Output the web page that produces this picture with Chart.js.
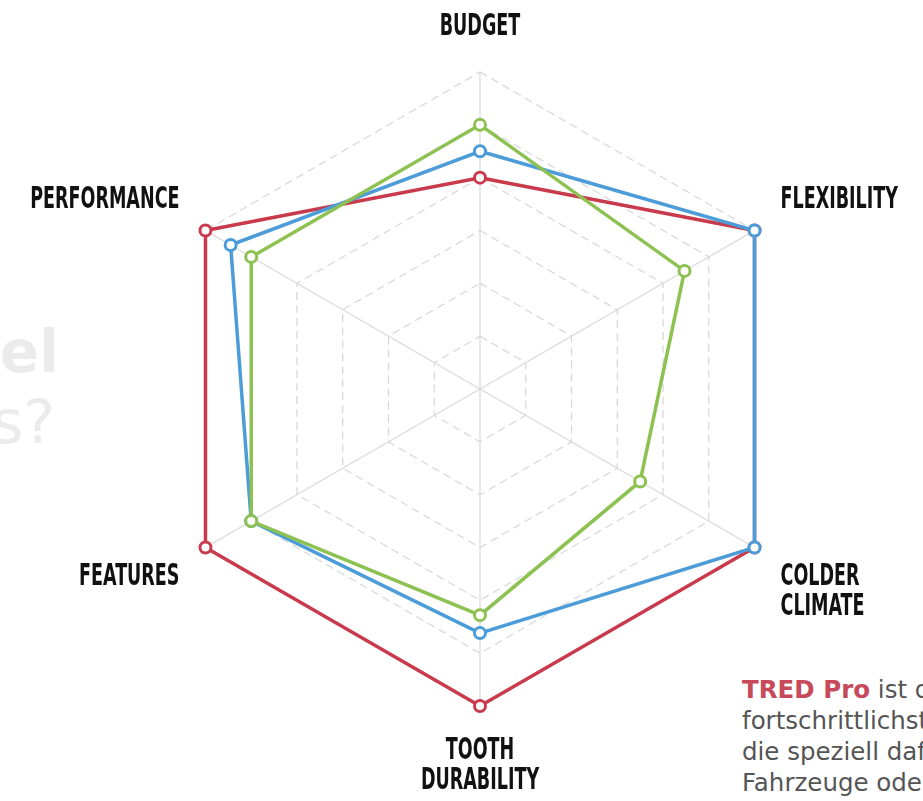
<!DOCTYPE html>
<html>
<head>
<meta charset="utf-8">
<script src="https://cdn.jsdelivr.net/npm/chart.js@4/dist/chart.umd.min.js"></script>
<style>
  html, body { margin: 0; padding: 0; width: 923px; height: 801px; overflow: hidden; background: #fff; position: relative; }
  .bg { position: absolute; white-space: nowrap; color: #ebebeb; font-family: 'DejaVu Sans', sans-serif; }
  #w1 { right: 864px; top: 318px; font-size: 58px; font-weight: bold; }
  #w2 { right: 868px; top: 387px; font-size: 60px; }
  #para { position: absolute; left: 742px; top: 674px; font-family: 'DejaVu Sans', sans-serif; font-size: 24.5px; line-height: 31px; color: #555; white-space: nowrap; }
  #para b { color: #c64a5a; }
  #wrap { position: absolute; left: -18px; top: -3px; width: 960px; height: 814px; }
  #c { display: block; width: 960px; height: 814px; }
</style>
</head>
<body>
<div class="bg" id="w1">el</div>
<div class="bg" id="w2">s?</div>
<div id="para"><b>TRED Pro</b> ist die<br>fortschrittlichste<br>die speziell dafür<br>Fahrzeuge oder</div>
<div id="wrap"><canvas id="c" width="960" height="814"></canvas></div>
<script>
const categories = ['BUDGET', 'FLEXIBILITY', ['COLDER', 'CLIMATE'], ['TOOTH', 'DURABILITY'], 'FEATURES', 'PERFORMANCE'];
const greenValues = [5.0, 4.47, 3.5, 4.28, 5.0, 5.0];
const blueValues  = [4.5, 6.0, 6.0, 4.62, 5.0, 5.45];
const redValues   = [4.0, 6.0, 6.0, 6.0, 6.0, 6.0];
const scaleMax = 6;

// condensed headline look for the axis labels: squeeze text horizontally
const canvas = document.getElementById('c');
const cx = canvas.getContext('2d');
const SQUEEZE = 0.65;
const origFill = cx.fillText.bind(cx);
const origMeasure = cx.measureText.bind(cx);
cx.fillText = function (t, x, y) {
  cx.save();
  cx.translate(x, y);
  cx.scale(SQUEEZE, 1);
  origFill(t, 0, 0);
  cx.restore();
};
cx.measureText = function (t) {
  const m = origMeasure(t);
  return { width: m.width * SQUEEZE, actualBoundingBoxAscent: m.actualBoundingBoxAscent, actualBoundingBoxDescent: m.actualBoundingBoxDescent };
};

function ds(data, color) {
  return {
    data: data,
    borderColor: color,
    backgroundColor: 'rgba(0,0,0,0)',
    borderWidth: 3.5,
    fill: false,
    pointRadius: 5.5,
    pointBorderWidth: 3,
    pointBackgroundColor: '#fff',
    pointBorderColor: color,
    tension: 0
  };
}

new Chart(canvas, {
  type: 'radar',
  data: {
    labels: categories,
    datasets: [
      ds(greenValues, '#8dc152'),
      ds(blueValues, '#4b9cd9'),
      ds(redValues, '#c83a4c')
    ]
  },
  options: {
    responsive: false,
    animation: false,
    devicePixelRatio: 1,
    layout: { padding: 0 },
    plugins: { legend: { display: false }, tooltip: { enabled: false } },
    scales: {
      r: {
        min: 0,
        max: scaleMax,
        ticks: { stepSize: 1, display: false },
        grid: { color: '#d6d6d6', lineWidth: 1.2 },
        border: { dash: [8, 5] },
        angleLines: { color: '#d9d9d9', lineWidth: 1.2 },
        pointLabels: {
          padding: 30,
          color: '#111',
          font: { family: "'DejaVu Sans Condensed', 'DejaVu Sans', sans-serif", size: 30, weight: 'bold', lineHeight: 1 }
        }
      }
    }
  }
});
</script>
</body>
</html>
